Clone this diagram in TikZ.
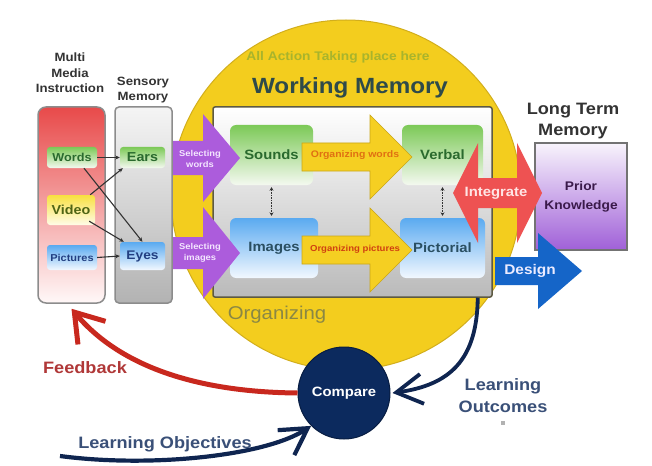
\documentclass[tikz,border=0pt]{standalone}
\usepackage{fontspec}
\setmainfont{Liberation Sans}[FakeStretch=1.1]
\usetikzlibrary{arrows.meta}
\definecolor{wmyellow}{HTML}{F3CD1E}
\definecolor{wmyellowd}{HTML}{D2AE1C}
\definecolor{hdrgray}{HTML}{333333}
\definecolor{wmtitle}{HTML}{2E4A4A}
\definecolor{actiontxt}{HTML}{A8B42C}
\definecolor{orgtxt}{HTML}{8A8744}
\definecolor{gtop}{HTML}{7CC957}
\definecolor{gbot}{HTML}{F4F9F0}
\definecolor{gtext}{HTML}{2A6A2E}
\definecolor{btop}{HTML}{5AAAF0}
\definecolor{bbot}{HTML}{F2F8FF}
\definecolor{btext}{HTML}{2A4F62}
\definecolor{ytop}{HTML}{F8E040}
\definecolor{ybot}{HTML}{FFFCE8}
\definecolor{ytext}{HTML}{4E6414}
\definecolor{arrowyellow}{HTML}{F5CF22}
\definecolor{arrowyellowd}{HTML}{C9A618}
\definecolor{orgwords}{HTML}{E07012}
\definecolor{orgpics}{HTML}{D04010}
\definecolor{purplearr}{HTML}{AC5CDC}
\definecolor{purpletxt}{HTML}{F4E6FF}
\definecolor{integred}{HTML}{EE5252}
\definecolor{designblue}{HTML}{1565C8}
\definecolor{pktop}{HTML}{F8F4FC}
\definecolor{pkbot}{HTML}{A060D8}
\definecolor{pktext}{HTML}{3A1A4A}
\definecolor{mmitop}{HTML}{E84A4A}
\definecolor{mmimid}{HTML}{F4AAAA}
\definecolor{mmibot}{HTML}{FFF8F8}
\definecolor{navy}{HTML}{0C2A5E}
\definecolor{curvenavy}{HTML}{0F2550}
\definecolor{learntxt}{HTML}{3A5078}
\definecolor{feedred}{HTML}{C8281E}
\definecolor{feedtxt}{HTML}{B03838}
\tikzset{
  hdr/.style={font=\bfseries\fontsize{12}{15.5}\selectfont, text=hdrgray, align=center},
  wmgreen/.style={rounded corners=6pt, top color=gtop, bottom color=gbot, text=gtext,
    font=\bfseries\fontsize{13.5}{16}\selectfont, minimum height=60pt, inner sep=0pt},
  wmblue/.style={rounded corners=6pt, top color=btop, bottom color=bbot, text=btext,
    font=\bfseries\fontsize{13.5}{16}\selectfont, minimum height=60pt, inner sep=0pt},
  lblgreen/.style={rounded corners=3pt, top color=gtop, bottom color=gbot, text=gtext, inner sep=0pt},
  lblyellow/.style={rounded corners=3pt, top color=ytop, bottom color=ybot, text=ytext, inner sep=0pt},
  lblblue/.style={rounded corners=3pt, top color=btop, bottom color=bbot, text=btext!80!blue, inner sep=0pt},
  senseline/.style={draw=hdrgray, line width=1.1pt, -{Stealth[length=4.5pt,width=4pt]}},
  dotlink/.style={draw=black!80, densely dotted, line width=1.6pt,
    {Stealth[length=3.5pt,width=4pt]}-{Stealth[length=3.5pt,width=4pt]}},
  bigyellow/.style={fill=arrowyellow, draw=arrowyellowd, line width=0.6pt},
  bigpurple/.style={fill=purplearr},
  arrtxt/.style={align=center, inner sep=0pt},
}
\begin{document}
\begin{tikzpicture}[x=1pt,y=-1pt]
\useasboundingbox (0,0) rectangle (652,465);
\fill[white] (0,0) rectangle (652,465);

% ---------- working memory circle ----------
\node[circle, minimum size=350pt, fill=wmyellow, draw=wmyellowd, line width=1pt] (yc) at (346,195) {};
\node[font=\bfseries\fontsize{12.5}{15}\selectfont, text=actiontxt] (action) at (338,57) {All Action Taking place here};
\node[font=\bfseries\fontsize{22}{26}\selectfont, text=wmtitle] (wmtitle) at (350,88) {Working Memory};
\node[font=\fontsize{18.5}{22}\selectfont, text=orgtxt] (organizing) at (277,315) {Organizing};

% gray working memory box
\node[rectangle, rounded corners=2pt, minimum width=279pt, minimum height=190pt,
      top color=white, bottom color=black!27, draw=black!55!yellow!60!black, line width=1.5pt] (wm) at (352.5,202) {};

\node[wmgreen, minimum width=83pt] (sounds) at (271.5,155) {Sounds};
\node[wmgreen, minimum width=81pt] (verbal) at (442.5,155) {Verbal};
\node[wmblue, minimum width=88pt] (images) at (274,248) {Images};
\node[wmblue, minimum width=85pt] (pictorial) at (442.5,248) {Pictorial};

\draw[dotlink] ([yshift=-2pt]sounds.south) -- ([yshift=2pt]sounds.south |- images.north);
\draw[dotlink] ([yshift=-2pt]verbal.south) -- ([yshift=2pt]verbal.south |- pictorial.north);

% organizing arrows
\path[bigyellow] (302,143) -- (370,143) -- (370,115) -- (412,157) -- (370,199) -- (370,171) -- (302,171) -- cycle;
\node[arrtxt, font=\bfseries\fontsize{9.5}{11}\selectfont, text=orgwords] (orgw) at (355,155) {Organizing words};
\path[bigyellow] (302,236) -- (370,236) -- (370,208) -- (412,250) -- (370,292) -- (370,264) -- (302,264) -- cycle;
\node[arrtxt, font=\bfseries\fontsize{8.7}{10}\selectfont, text=orgpics] (orgp) at (355,249) {Organizing pictures};

% selecting arrows
\path[bigpurple] (173,141) -- (203,141) -- (203,114) -- (240,158) -- (203,202) -- (203,175) -- (173,175) -- cycle;
\node[arrtxt, font=\bfseries\fontsize{8.5}{11.5}\selectfont, text=purpletxt] (selw) at (200,159) {Selecting\\words};
\path[bigpurple] (173,237) -- (203,237) -- (203,207) -- (240,253) -- (203,299) -- (203,269) -- (173,269) -- cycle;
\node[arrtxt, font=\bfseries\fontsize{8.5}{11.5}\selectfont, text=purpletxt] (seli) at (200,253) {Selecting\\images};

% ---------- long term memory ----------
\node[hdr, font=\bfseries\fontsize{16.5}{21}\selectfont] (ltm) at (573,121) {Long Term\\Memory};
\node[rectangle, minimum width=92pt, minimum height=107pt, top color=pktop, bottom color=pkbot,
      draw=black!55, line width=1.5pt, align=center, text=pktext,
      font=\bfseries\fontsize{12.5}{19}\selectfont] (prior) at (581,196.5) {Prior\\Knowledge};

\fill[integred] (453,193) -- (478,143) -- (478,178) -- (517,178) -- (517,143) -- (542,193)
  -- (517,243) -- (517,208) -- (478,208) -- (478,243) -- cycle;
\node[arrtxt, font=\bfseries\fontsize{13.5}{16}\selectfont, text=red!10!white] (integrate) at (496,193) {Integrate};

\fill[designblue] (495,257) -- (538,257) -- (538,233) -- (582,271) -- (538,309) -- (538,285) -- (495,285) -- cycle;
\node[arrtxt, font=\bfseries\fontsize{14}{16}\selectfont, text=blue!8!white] (design) at (530,271) {Design};

% ---------- left columns ----------
\node[hdr] (mmititle) at (70,73) {Multi\\Media\\Instruction};
\node[hdr] (senstitle) at (143,90) {Sensory\\Memory};
\node[rectangle, rounded corners=8pt, minimum width=67pt, minimum height=196pt,
      top color=mmitop, middle color=mmimid, bottom color=mmibot, draw=black!45, line width=1.5pt] (mmi) at (71.5,205) {};
\node[rectangle, rounded corners=4pt, minimum width=57pt, minimum height=196pt,
      top color=black!4, bottom color=black!30, draw=black!45, line width=1.5pt] (sens) at (143.5,205) {};

\node[lblgreen, minimum width=50pt, minimum height=21pt, font=\bfseries\fontsize{11.5}{13}\selectfont] (words) at (72,157.5) {Words};
\node[lblyellow, minimum width=48pt, minimum height=30pt, font=\bfseries\fontsize{13}{15}\selectfont] (video) at (71,210) {Video};
\node[lblblue, minimum width=50pt, minimum height=25pt, font=\bfseries\fontsize{10}{12}\selectfont] (pictures) at (72,257.5) {Pictures};
\node[lblgreen, minimum width=45pt, minimum height=21pt, font=\bfseries\fontsize{13}{15}\selectfont] (ears) at (142.5,157.5) {Ears};
\node[lblblue, minimum width=45pt, minimum height=28pt, font=\bfseries\fontsize{12.5}{15}\selectfont] (eyes) at (142.5,256) {Eyes};

\draw[senseline] (words.east) -- (ears.west);
\draw[senseline] ([xshift=12pt]words.south) -- (eyes.north);
\draw[senseline] ([xshift=-5pt]video.north east) -- ([xshift=3pt]ears.south west);
\draw[senseline] ([xshift=-6pt,yshift=4pt]video.south east) -- ([xshift=4pt]eyes.north west);
\draw[senseline] (pictures.east) -- (eyes.west);

% ---------- compare loop ----------
\node[circle, minimum size=92pt, fill=navy, draw=navy!70!black, line width=1pt, text=white,
      font=\bfseries\fontsize{13.5}{16}\selectfont, inner sep=0pt] (compare) at (344,393) {Compare};

\draw[feedred, line width=5pt, -{Straight Barb[length=27pt,width=36pt]}]
  (compare.west) .. controls (190,392) and (117,363) .. ([yshift=-5pt]mmi.south);
\node[font=\bfseries\fontsize{16.5}{20}\selectfont, text=feedtxt] (feedback) at (85,368) {Feedback};

\draw[curvenavy, line width=3.8pt, -{Straight Barb[length=26pt,width=30pt]}]
  ([xshift=-15pt]wm.south east) .. controls (477,360) and (450,385) .. ([xshift=2pt]compare.east);
\node[hdr, font=\bfseries\fontsize{16.5}{22}\selectfont, text=learntxt] (outcomes) at (503,396) {Learning\\Outcomes};
\node[rectangle, fill=black!30, minimum size=4pt, inner sep=0pt] (icon) at (503,423) {};

\coordinate (objstart) at (60,456);
\draw[curvenavy, line width=4.2pt, -{Straight Barb[length=26pt,width=30pt]}]
  (objstart) .. controls (150,468) and (266,456) .. (compare.south west);
\node[font=\bfseries\fontsize{16.5}{20}\selectfont, text=learntxt] (objectives) at (165,444) {Learning Objectives};
\end{tikzpicture}
\end{document}
